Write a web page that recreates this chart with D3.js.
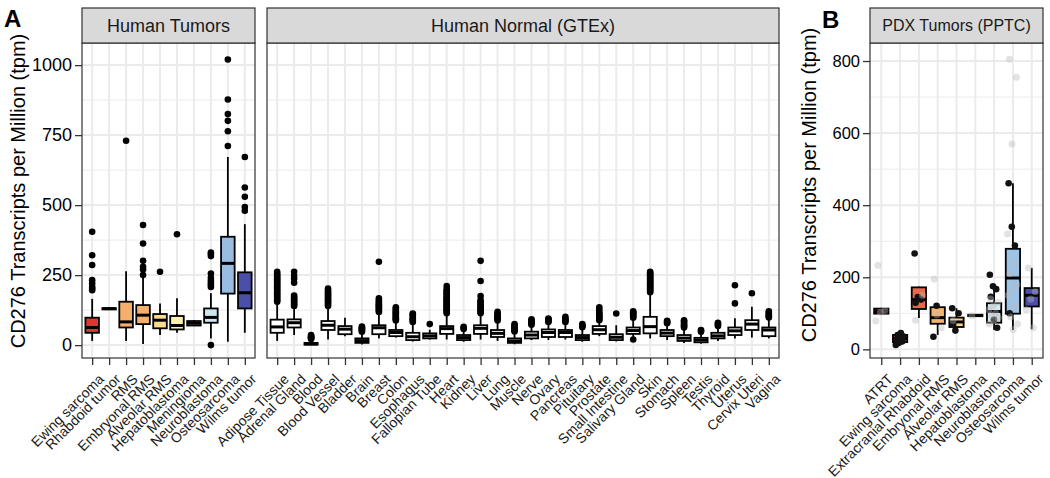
<!DOCTYPE html>
<html>
<head>
<meta charset="utf-8">
<title>CD276 expression</title>
<script src="https://d3js.org/d3.v7.min.js"></script>
<style>
  body { margin: 0; background: #fff; }
  svg { display: block; font-family: "Liberation Sans", Arial, Helvetica, sans-serif; }
</style>
</head>
<body>
<script>
// ---- data: [lower whisker, q1, median, q3, upper whisker] ----
const tumorCats = ["Ewing sarcoma", "Rhabdoid tumor", "RMS", "Embryonal RMS", "Alveolar RMS",
  "Hepatoblastoma", "Meningioma", "Neuroblastoma", "Osteosarcoma", "Wilms tumor"];
const tumorStats = [
  [15, 44, 63, 98, 165], [126, 128, 130, 132, 134], [15, 63, 83, 155, 264], [4, 75, 107, 143, 244],
  [36, 60, 89, 111, 149], [44, 56, 70, 104, 167], [68, 70, 78, 86, 90], [24, 80, 99, 131, 185],
  [12, 184, 292, 387, 672], [44, 131, 187, 260, 432]
];
const tumorOutliers = [
  [196, 202, 208, 220, 232, 286, 321, 405], [], [730], [250, 270, 280, 301, 363, 429],
  [262], [396], [], [0, 208, 215, 222, 230, 240, 256, 318, 325, 331],
  [711, 764, 801, 825, 877, 1020], [480, 493, 530, 563, 672]
];
const tumorColors = ["#d63b30", "#ee6a47", "#f4b06a", "#f4b06c", "#fbdc8e",
  "#fdf2b0", "#eeeeee", "#cce7f2", "#98bde1", "#4a4fa8"];

const gtexCats = ["Adipose Tissue", "Adrenal Gland", "Blood", "Blood Vessel", "Bladder", "Brain",
  "Breast", "Colon", "Esophagus", "Fallopian Tube", "Heart", "Kidney", "Liver", "Lung", "Muscle",
  "Nerve", "Ovary", "Pancreas", "Pituitary", "Prostate", "Small Intestine", "Salivary Gland",
  "Skin", "Stomach", "Spleen", "Testis", "Thyroid", "Uterus", "Cervix Uteri", "Vagina"];
const gtexStats = [
  [15, 44, 65, 91, 150], [36, 63, 80, 92, 135], [0, 2, 4, 8, 20], [20, 54, 71, 86, 135],
  [32, 39, 57, 68, 98], [2, 8, 16, 24, 45], [24, 39, 62, 71, 115], [27, 32, 45, 54, 85],
  [13, 18, 30, 44, 80], [20, 24, 33, 42, 55], [20, 40, 59, 68, 110], [12, 18, 27, 36, 55],
  [20, 40, 60, 71, 110], [15, 29, 42, 54, 85], [3, 8, 15, 24, 45], [18, 24, 36, 48, 70],
  [18, 29, 45, 56, 80], [20, 29, 45, 54, 80], [12, 18, 27, 36, 60], [32, 40, 55, 68, 85],
  [13, 18, 28, 39, 71], [28, 40, 52, 63, 95], [24, 42, 66, 101, 185], [18, 32, 43, 54, 75],
  [8, 15, 25, 36, 60], [5, 10, 18, 26, 45], [15, 24, 33, 44, 65], [24, 36, 51, 63, 96],
  [27, 54, 75, 89, 137], [24, 32, 54, 63, 95]
];
const gtexOutliers = [
  [155, 160, 165, 170, 175, 180, 185, 190, 195, 200, 205, 210, 215, 220, 225, 230, 235, 240, 245, 250, 255, 262],
  [140, 145, 150, 155, 160, 165, 170, 177, 223, 237, 248, 262],
  [22, 24, 26, 28, 30, 33, 36],
  [140, 145, 150, 155, 160, 165, 170, 175, 180, 185, 190, 195, 202],
  [],
  [48, 51, 54, 57, 60, 63, 66],
  [118, 122, 126, 130, 134, 138, 142, 146, 150, 155, 160, 167, 298],
  [88, 92, 96, 100, 104, 108, 112, 116, 120, 125, 130, 135],
  [83, 87, 91, 95, 100, 105, 110, 113],
  [75],
  [114, 118, 122, 126, 130, 134, 138, 142, 146, 150, 154, 158, 162, 166, 170, 175, 180, 185, 190, 195, 200, 211],
  [58, 61, 65],
  [114, 118, 122, 126, 130, 135, 140, 145, 150, 155, 161, 175, 229, 301],
  [88, 92, 96, 100, 104, 108, 112, 119],
  [49, 53, 57, 61, 65, 70, 75],
  [73, 76, 80, 84, 88, 92],
  [83, 86, 89, 92, 95],
  [83, 87, 91, 95, 101],
  [64, 68, 71, 75],
  [89, 93, 97, 101, 105, 109, 113, 119, 127, 135],
  [113],
  [20, 98, 101, 105, 109, 113, 117, 121],
  [189, 193, 197, 201, 205, 209, 213, 217, 221, 225, 229, 233, 237, 241, 245, 249, 253, 257, 262],
  [78, 81, 84, 87],
  [63, 67, 71, 75, 80, 85, 89],
  [48, 51, 54],
  [68, 72, 76, 80],
  [149, 214],
  [185],
  [99, 103, 107, 111, 115, 121]
];

const pdxCats = ["ATRT", "Ewing sarcoma", "Extracranial Rhabdoid", "Embryonal RMS", "Alveolar RMS",
  "Hepatoblastoma", "Neuroblastoma", "Osteosarcoma", "Wilms tumor"];
const pdxStats = [
  [97, 99, 105, 113, 115], [12, 20, 30, 40, 48], [87, 112, 138, 172, 174], [40, 71, 88, 117, 121],
  [52, 62, 76, 88, 114], [91, 92, 94, 96, 97], [54, 74, 105, 128, 175], [54, 99, 198, 279, 461],
  [56, 119, 150, 170, 226]
];
const pdxBlack = [
  [], [12, 18, 22, 27, 31, 36, 40, 45], [266, 145, 138, 129], [35, 121],
  [114, 52, 100, 68], [], [207, 175, 167, 146, 82, 60], [461, 340, 288, 100],
  []
];
const pdxGray = [
  [233, 108, 103, 79], [], [81, 150], [195, 60, 95],
  [80], [93], [140, 130, 120, 110, 100, 95, 88, 80, 70], [805, 755, 570, 320, 240, 210, 180, 166, 150, 120, 90, 70, 55],
  [226, 160, 140, 110, 60]
];
const pdxColors = ["#a50026", "#d73027", "#e8684a", "#f5b46e", "#fcd68a",
  "#fff4b8", "#d4ecf4", "#9dc3e6", "#4a4fa8"];

const ticksA = [0, 250, 500, 750, 1000], minorA = [125, 375, 625, 875];
const ticksB = [0, 200, 400, 600, 800], minorB = [100, 300, 500, 700];

// ---- layout ----
const width = 1050, height = 478;
const panelTop = 43, panelBottom = 358, stripTop = 8;

const svg = d3.select('body').append('svg')
  .attr('width', width)
  .attr('height', height);

const yA = d3.scaleLinear().domain([-46, 1079]).range([panelBottom, panelTop]);
const yB = d3.scaleLinear().domain([-24, 850]).range([panelBottom, panelTop]);

function drawPanel(o) {
  const x = d3.scalePoint().domain(o.cats).range([o.x0, o.x1]).padding(0.6);
  const y = o.y;
  const bw = x.step() * o.boxFrac;
  const g = svg.append('g');

  g.append('rect')
    .attr('x', o.x0).attr('y', panelTop)
    .attr('width', o.x1 - o.x0).attr('height', panelBottom - panelTop)
    .attr('fill', '#fff');

  const grid = g.append('g').attr('stroke', '#ebebeb');
  grid.selectAll('line.minor').data(o.minor).join('line')
    .attr('class', 'minor')
    .attr('x1', o.x0).attr('x2', o.x1)
    .attr('y1', d => y(d)).attr('y2', d => y(d))
    .attr('stroke-width', 1);
  grid.selectAll('line.major').data(o.ticks).join('line')
    .attr('class', 'major')
    .attr('x1', o.x0).attr('x2', o.x1)
    .attr('y1', d => y(d)).attr('y2', d => y(d))
    .attr('stroke-width', 2);
  grid.selectAll('line.vmajor').data(o.cats).join('line')
    .attr('class', 'vmajor')
    .attr('x1', d => x(d)).attr('x2', d => x(d))
    .attr('y1', panelTop).attr('y2', panelBottom)
    .attr('stroke-width', 2);

  const box = g.append('g').selectAll('g').data(o.cats).join('g')
    .attr('transform', d => 'translate(' + x(d) + ',0)');

  box.append('line')
    .attr('y1', (d, i) => y(o.stats[i][0]))
    .attr('y2', (d, i) => y(o.stats[i][4]))
    .attr('stroke', '#000').attr('stroke-width', 1.8);

  box.append('rect')
    .attr('x', -bw / 2).attr('width', bw)
    .attr('y', (d, i) => y(o.stats[i][3]))
    .attr('height', (d, i) => y(o.stats[i][1]) - y(o.stats[i][3]))
    .attr('fill', (d, i) => o.colors[i])
    .attr('stroke', '#000').attr('stroke-width', 1.8);

  box.append('line')
    .attr('x1', -bw / 2).attr('x2', bw / 2)
    .attr('y1', (d, i) => y(o.stats[i][2]))
    .attr('y2', (d, i) => y(o.stats[i][2]))
    .attr('stroke', '#000').attr('stroke-width', 3);

  if (o.outliers) {
    box.each(function (d, i) {
      d3.select(this).selectAll('circle.out').data(o.outliers[i]).join('circle')
        .attr('class', 'out')
        .attr('cy', v => y(v)).attr('r', 3.3)
        .attr('fill', '#000');
    });
  }
  if (o.black) {
    box.each(function (d, i) {
      d3.select(this).selectAll('circle.blk').data(o.black[i]).join('circle')
        .attr('class', 'blk')
        .attr('cx', (v, j) => ((j * 0.37) % 1 - 0.5) * bw * 0.6)
        .attr('cy', v => y(v)).attr('r', 3.3)
        .attr('fill', '#111');
    });
  }
  if (o.gray) {
    box.each(function (d, i) {
      d3.select(this).selectAll('circle.gry').data(o.gray[i]).join('circle')
        .attr('class', 'gry')
        .attr('cx', (v, j) => ((j * 0.61 + 0.2) % 1 - 0.5) * bw * 0.8)
        .attr('cy', v => y(v)).attr('r', 3.5)
        .attr('fill', '#b8b8b8').attr('fill-opacity', 0.4);
    });
  }

  // panel border
  g.append('rect')
    .attr('x', o.x0).attr('y', panelTop)
    .attr('width', o.x1 - o.x0).attr('height', panelBottom - panelTop)
    .attr('fill', 'none').attr('stroke', '#333').attr('stroke-width', 1.2);

  // strip
  g.append('rect')
    .attr('x', o.x0).attr('y', stripTop)
    .attr('width', o.x1 - o.x0).attr('height', panelTop - stripTop)
    .attr('fill', '#d9d9d9').attr('stroke', '#333').attr('stroke-width', 1.2);
  g.append('text')
    .attr('x', (o.x0 + o.x1) / 2).attr('y', (stripTop + panelTop) / 2)
    .attr('dy', '0.35em')
    .attr('text-anchor', 'middle')
    .attr('font-size', o.stripSize)
    .attr('fill', '#1a1a1a')
    .text(o.title);

  // x axis
  const xa = g.append('g')
    .attr('transform', 'translate(0,' + panelBottom + ')')
    .attr('color', '#333')
    .call(d3.axisBottom(x).tickSize(7).tickSizeOuter(0));
  xa.select('.domain').remove();
  xa.selectAll('line').attr('stroke-width', 1.3);
  xa.selectAll('text')
    .attr('x', 0).attr('y', 0).attr('dy', '0.71em')
    .attr('text-anchor', 'end')
    .attr('transform', 'translate(5,15) rotate(-45)')
    .attr('font-size', 14)
    .attr('font-family', '"Liberation Sans", Arial, sans-serif')
    .attr('fill', '#1a1a1a');

  // y axis
  if (o.yAxis) {
    const ya = g.append('g')
      .attr('transform', 'translate(' + o.x0 + ',0)')
      .attr('color', '#333')
      .call(d3.axisLeft(y).tickValues(o.ticks).tickFormat(d3.format('d')).tickSize(7).tickPadding(3));
    ya.select('.domain').remove();
    ya.selectAll('line').attr('stroke-width', 1.3);
    ya.selectAll('text')
      .attr('font-size', o.tickSize)
      .attr('font-family', '"Liberation Sans", Arial, sans-serif')
      .attr('fill', '#000');
    svg.append('text')
      .attr('transform', 'translate(' + o.titleX + ',' + o.titleY + ') rotate(-90)')
      .attr('text-anchor', 'middle')
      .attr('font-size', 20)
      .attr('fill', '#000')
      .text('CD276 Transcripts per Million (tpm)');
  }
}

drawPanel({
  cats: tumorCats, stats: tumorStats, outliers: tumorOutliers, colors: tumorColors,
  x0: 82, x1: 255, y: yA, ticks: ticksA, minor: minorA, boxFrac: 0.8,
  title: 'Human Tumors', stripSize: 18, yAxis: true, tickSize: 18, titleX: 25, titleY: 191
});

drawPanel({
  cats: gtexCats, stats: gtexStats, outliers: gtexOutliers, colors: gtexCats.map(() => '#fff'),
  x0: 267, x1: 779, y: yA, ticks: ticksA, minor: minorA, boxFrac: 0.78,
  title: 'Human Normal (GTEx)', stripSize: 18, yAxis: false
});

drawPanel({
  cats: pdxCats, stats: pdxStats, black: pdxBlack, gray: pdxGray, colors: pdxColors,
  x0: 870, x1: 1043, y: yB, ticks: ticksB, minor: minorB, boxFrac: 0.76,
  title: 'PDX Tumors (PPTC)', stripSize: 16, yAxis: true, tickSize: 16.5, titleX: 816, titleY: 185
});

// panel letters
svg.append('text').attr('x', 4).attr('y', 27)
  .attr('font-size', 24).attr('font-weight', 'bold').text('A');
svg.append('text').attr('x', 822).attr('y', 28)
  .attr('font-size', 24).attr('font-weight', 'bold').text('B');
</script>
</body>
</html>
